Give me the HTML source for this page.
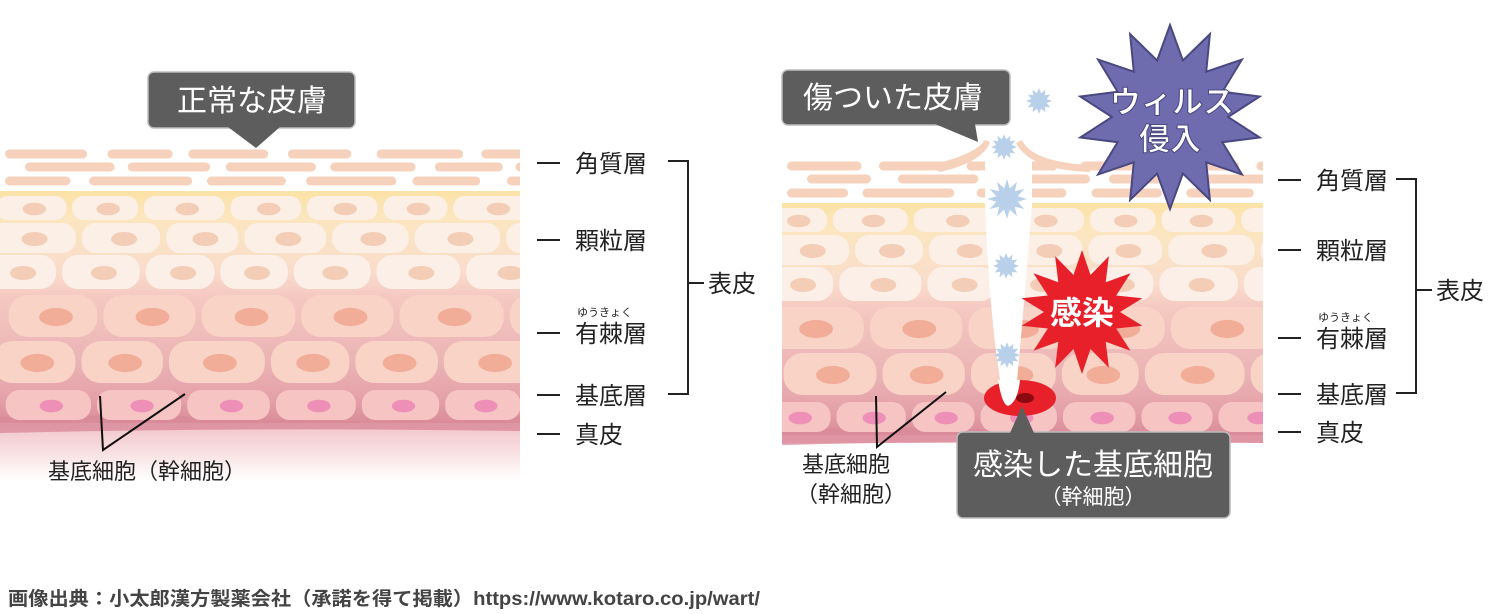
<!DOCTYPE html>
<html><head><meta charset="utf-8">
<style>
html,body{margin:0;padding:0;background:#fff;}
body{width:1488px;height:614px;overflow:hidden;position:relative;}
svg{position:absolute;left:0;top:0;}
text{font-family:"Liberation Sans","Noto Sans CJK JP",sans-serif;}
</style></head>
<body>
<svg id="s" width="1488" height="614" viewBox="0 0 1488 614" xmlns="http://www.w3.org/2000/svg">
<defs>
<linearGradient id="bgL" x1="0" y1="0" x2="0" y2="1">
<stop offset="0" stop-color="#fbe2a6"/>
<stop offset="0.12" stop-color="#fbe6c0"/>
<stop offset="0.35" stop-color="#f9dccb"/>
<stop offset="0.45" stop-color="#f5c9c2"/>
<stop offset="0.75" stop-color="#eab2b4"/>
<stop offset="0.9" stop-color="#e4a0a8"/>
<stop offset="1" stop-color="#d98d98"/>
</linearGradient>
<linearGradient id="derL" x1="0" y1="0" x2="0" y2="1">
<stop offset="0" stop-color="#f2c4c8"/>
<stop offset="0.5" stop-color="#f8dfe1"/>
<stop offset="1" stop-color="#ffffff"/>
</linearGradient>
</defs>
<g id="skin"></g>
<g id="over"></g>
</svg>
<script>
const NS="http://www.w3.org/2000/svg";
const skin=document.getElementById('skin');
const over=document.getElementById('over');
function el(p,tag,a,txt){const e=document.createElementNS(NS,tag);for(const k in a)e.setAttribute(k,a[k]);if(txt!==undefined)e.textContent=txt;p.appendChild(e);return e;}
let seed=7;function rnd(){seed=(seed*9301+49297)%233280;return seed/233280;}

function drawSkin(x0,w,top,dermBottom,fade,crackX){
  const g=el(skin,'g',{});
  const clip='c'+x0;
  const cp=el(g,'clipPath',{id:clip});el(cp,'rect',{x:x0,y:0,width:w,height:614});
  const gg=el(g,'g',{'clip-path':'url(#'+clip+')'});
  // flakes
  const fy=[top-37,top-24,top-10];
  fy.forEach((y,i)=>{let x=x0+(i%2?25:5);while(x<x0+w){const fw=60+rnd()*45;el(gg,'rect',{x:x,y:y-4.5,width:fw,height:9,rx:4.5,fill:'#f6d2bd'});x+=fw+12+rnd()*15;}});
  // epidermis bg
  el(gg,'rect',{x:x0,y:top,width:w,height:232,fill:'url(#bgL)'});
  // dermis
  el(gg,'rect',{x:x0,y:top+232,width:w,height:dermBottom-(top+232),fill:fade?'url(#derL)':'#f3c3c6'});
  el(gg,'path',{d:`M${x0} ${top+226} Q${x0+w*0.25} ${top+222} ${x0+w*0.5} ${top+228} T${x0+w} ${top+226} L${x0+w} ${top+240} Q${x0+w*0.5} ${top+236} ${x0} ${top+242}Z`,fill:'#d9899a',opacity:'0.8'});
  const rows=[
    {cy:top+17,h:24,wm:80,f:'#fcefe6',n:'#f3cdb5',nr:9},
    {cy:top+47,h:30,wm:85,f:'#fcefe6',n:'#f3cdb5',nr:10},
    {cy:top+81,h:34,wm:85,f:'#fcefe7',n:'#f3cdb5',nr:10},
    {cy:top+125,h:42,wm:100,f:'#f8d3c6',n:'#f2ad98',nr:13},
    {cy:top+171,h:42,wm:95,f:'#f8d3c6',n:'#f2ad98',nr:13},
    {cy:top+214,h:30,wm:80,f:'#f7c4c4',n:'#ee8fb8',nr:9},
  ];
  rows.forEach((r,i)=>{let x=x0-20+rnd()*30;while(x<x0+w+20){const cw=r.wm*(0.85+rnd()*0.3);el(gg,'rect',{x:x,y:r.cy-r.h/2,width:cw-6,height:r.h,rx:r.h/2.2,fill:r.f});el(gg,'ellipse',{cx:x+cw/2,cy:r.cy+1,rx:r.nr*1.3,ry:r.nr*0.7,fill:r.n});x+=cw;}});
}
drawSkin(0,520,191,480,true);
drawSkin(782,481,203,443,false);

// crack on right
el(over,'path',{d:'M985 205 Q990 330 1004 402 Q1010 412 1015 402 Q1022 330 1032 205 Z',fill:'#fff'});
el(over,'rect',{x:985,y:150,width:47,height:56,fill:'#fff'});
el(over,'path',{d:'M930 165 Q975 155 985 140 L990 142 Q983 162 940 172 Z',fill:'#f6d2bd'});
el(over,'path',{d:'M1022 140 Q1032 162 1090 165 L1090 172 Q1030 170 1016 143 Z',fill:'#f6d2bd'});
// red blob
el(over,'ellipse',{cx:1020,cy:398,rx:36,ry:18,fill:'#e8202a'});
el(over,'path',{d:'M998 380 Q1003 410 1010 405 Q1018 400 1020 380Z',fill:'#fff'});
el(over,'ellipse',{cx:1025,cy:398,rx:9,ry:5,fill:'#8a0a10'});

function star(cx,cy,R,r,n,fill,stroke){let d='';for(let i=0;i<2*n;i++){const a=Math.PI*i/n-Math.PI/2;const rr=i%2?r:R;d+=(i?'L':'M')+(cx+rr*Math.cos(a)).toFixed(1)+' '+(cy+rr*Math.sin(a)).toFixed(1);}el(over,'path',{d:d+'Z',fill:fill,stroke:stroke||'none','stroke-width':2});}
// virus dots
[[1039,101],[1004,147],[1007,199],[1006,266],[1007,355]].forEach((p,i)=>star(p[0],p[1],i==2?20:13,i==2?11:8,12,'#b9d0ea'));
// purple star
star(1170,117,92,58,14,'#6e6caf','#4a4880');
el(over,'text',{x:1172,y:113,'text-anchor':'middle','font-size':31,'font-weight':'bold',fill:'#fff',stroke:'#4a4880','stroke-width':1},'ウィルス');
el(over,'text',{x:1170,y:150,'text-anchor':'middle','font-size':31,'font-weight':'bold',fill:'#fff',stroke:'#4a4880','stroke-width':1},'侵入');
// red star
star(1082,312,62,38,14,'#e8202a');
el(over,'text',{x:1082,y:324,'text-anchor':'middle','font-size':32,'font-weight':'bold',fill:'#fff'},'感染');

// callouts
function box(x,y,w,h,tail){el(over,'rect',{x:x,y:y,width:w,height:h,rx:6,fill:'#5d5d5d',stroke:'#bbb','stroke-width':1.5});el(over,'path',{d:tail,fill:'#5d5d5d'});}
box(148,72,207,56,'M228 127 L256 148 L280 127Z');
el(over,'text',{x:252,y:111,'text-anchor':'middle','font-size':30,fill:'#fff'},'正常な皮膚');
box(782,70,228,55,'M935 124 L978 142 L975 124Z');
el(over,'text',{x:893,y:108,'text-anchor':'middle','font-size':30,fill:'#fff'},'傷ついた皮膚');
box(957,432,273,86,'M1010 433 L1022 406 L1034 433Z');
el(over,'text',{x:1093,y:475,'text-anchor':'middle','font-size':30,fill:'#fff'},'感染した基底細胞');
el(over,'text',{x:1093,y:504,'text-anchor':'middle','font-size':21,fill:'#fff'},'（幹細胞）');

// pointer lines
el(over,'path',{d:'M100 396 L103 450 L185 394',fill:'none',stroke:'#111','stroke-width':2});
el(over,'path',{d:'M876 396 L877 447 L946 392',fill:'none',stroke:'#111','stroke-width':2});
el(over,'text',{x:48,y:479,'font-size':22,fill:'#222'},'基底細胞（幹細胞）');
el(over,'text',{x:802,y:472,'font-size':22,fill:'#222'},'基底細胞');
el(over,'text',{x:796,y:502,'font-size':22,fill:'#222'},'（幹細胞）');

// labels
function labels(dx,ys,rubyY,bx,by1,by2,ty){
  const names=['角質層','顆粒層','有棘層','基底層','真皮'];
  names.forEach((n,i)=>{el(over,'line',{x1:dx,y1:ys[i],x2:dx+23,y2:ys[i],stroke:'#222','stroke-width':2});el(over,'text',{x:dx+38,y:ys[i]+9,'font-size':24,fill:'#222'},n);});
  el(over,'text',{x:dx+40,y:rubyY,'font-size':11,fill:'#222'},'ゆうきょく');
  el(over,'path',{d:`M${bx-20} ${by1} H${bx} V${by2} H${bx-20} M${bx} ${ty} H${bx+16}`,fill:'none',stroke:'#222','stroke-width':2});
  el(over,'text',{x:bx+20,y:ty+9,'font-size':24,fill:'#222'},'表皮');
}
labels(537,[163,240,333,395,434],316,688,161,394,283);
labels(1278,[180,250,338,394,432],321,1416,179,393,290);

el(over,'text',{x:8,y:605,'font-size':19,fill:'#444','font-weight':'bold',textLength:752,lengthAdjust:'spacingAndGlyphs'},'画像出典：小太郎漢方製薬会社（承諾を得て掲載）https://www.kotaro.co.jp/wart/');
</script>
</body></html>
